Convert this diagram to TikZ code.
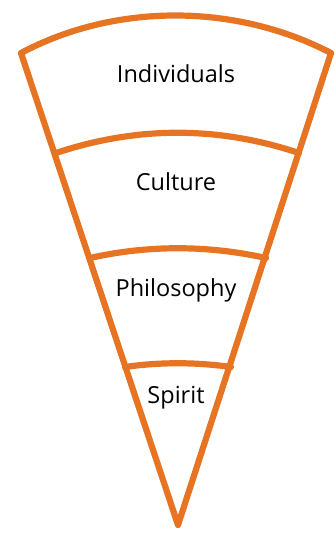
\documentclass[tikz,border=0pt]{standalone}
\usepackage{fontspec}
\setsansfont{Open Sans}
\usetikzlibrary{positioning}
\definecolor{coneorange}{RGB}{230,116,34}

\begin{document}
\begin{tikzpicture}[x=1pt, y=-1pt,
  rim/.style={draw=coneorange, line width=6.2pt, line join=round, line cap=round},
  layer/.style={font=\sffamily\fontsize{23.5}{27}\selectfont, text=black}]

  \useasboundingbox (0,0) rectangle (334,534);

  % corners of the cone
  \coordinate (tl) at (21,53);
  \coordinate (tr) at (331,53);
  \coordinate (apex) at (178,525);

  % outline
  \draw[rim] (apex) -- (tl) .. controls (115,3) and (235,3) .. (tr) -- cycle;

  % bands
  \draw[rim] (56,153) .. controls (137,126) and (218,126) .. (299,153);
  \draw[rim] (90,258) .. controls (148,245) and (207,245) .. (266,258);
  \draw[rim] (125,367) .. controls (160,362) and (195,362) .. (231,367);

  \node[layer] (individuals) at (176,74) {Individuals};
  \node[layer] (culture) at (176,182) {Culture};
  \node[layer] (philosophy) at (176,290) {Philosophy};
  \node[layer] (spirit) at (176,398) {Spirit};
\end{tikzpicture}
\end{document}
